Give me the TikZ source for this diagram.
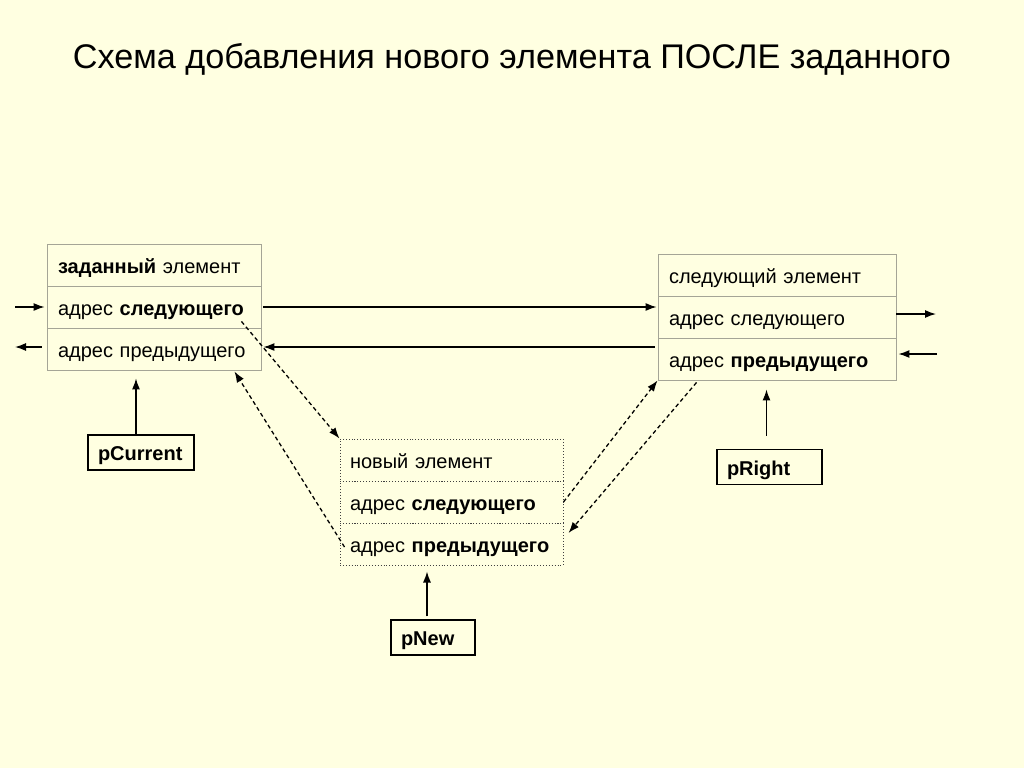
\documentclass[tikz,border=0pt]{standalone}
\usepackage{fontspec}
\setmainfont{Liberation Sans}
\usetikzlibrary{arrows.meta}
\definecolor{paper}{RGB}{255,255,225}
\definecolor{cellline}{RGB}{165,165,150}
\tikzset{
  cell/.style={draw=cellline, line width=0.9pt, align=left, inner xsep=11pt,
    minimum height=42pt, text height=20pt, text depth=4pt,
    font=\fontsize{20}{24}\selectfont},
  newcell/.style={cell, draw=black!75, dotted, line width=1pt, inner xsep=10pt},
  pointer/.style={draw=black, line width=1.2pt, align=left, inner xsep=10pt,
    minimum height=35pt, text height=19pt, text depth=3pt,
    font=\fontsize{20}{24}\selectfont\bfseries},
  link/.style={line width=1.3pt, -{Latex[length=11pt,width=8pt]}},
  dlink/.style={link, dash pattern=on 4pt off 3pt}
}
\begin{document}
\begin{tikzpicture}[x=1pt,y=-1pt]
        \useasboundingbox[fill=paper] (0,0) rectangle (1024,768);

        % Title
        \node[font=\fontsize{34.2}{40}\selectfont, anchor=base] (title) at (512,68)
          {Схема добавления нового элемента ПОСЛЕ заданного};

        % Define the elements
        \node[cell, text width=192pt] (cur1) at (154,265) {\textbf{заданный} элемент};
        \node[cell, text width=192pt] (cur2) at (154,307) {адрес \textbf{следующего}};
        \node[cell, text width=192pt] (cur3) at (154,349) {адрес предыдущего};

        \node[cell, text width=216pt] (nxt1) at (777,275) {следующий элемент};
        \node[cell, text width=216pt] (nxt2) at (777,317) {адрес следующего};
        \node[cell, text width=216pt] (nxt3) at (777,359) {адрес \textbf{предыдущего}};

        \node[newcell, text width=203pt] (new1) at (451.5,460) {новый элемент};
        \node[newcell, text width=203pt] (new2) at (451.5,502) {адрес \textbf{следующего}};
        \node[newcell, text width=203pt] (new3) at (451.5,544) {адрес \textbf{предыдущего}};

        % Define the pointers
        \node[pointer, text width=86pt] (pCur) at (141,452.5) {pCurrent};
        \node[pointer, text width=85pt] (pRgt) at (769.5,467) {pRight};
        \node[pointer, text width=64pt] (pNew) at (433,637.5) {pNew};

        % Free ends
        \coordinate (inL) at (15,307);
        \coordinate (outL) at (15,347);
        \coordinate (outR) at (936,314);
        \coordinate (inR) at (937,354);

        % Draw arrows
        \draw[link] (inL) -- ([xshift=-2pt]inL -| cur2.west);
        \draw[link] ([xshift=-5pt]outL -| cur3.west) -- (outL);
        \draw[link] (outR -| nxt2.east) -- (outR);
        \draw[link] (inR) -- ([xshift=2pt]inR -| nxt3.east);

        \draw[link] ([xshift=2pt]cur2.east) -- ([xshift=-1pt]cur2.east -| nxt2.west);
        \draw[link] ([shift={(-3,-2)}]nxt3.west |- cur3.east) -- ([shift={(2,-2)}]cur3.east);

        \draw[link] ([xshift=-5pt]pCur.north) -- ([shift={(-5,8)}]pCur.north |- cur3.south);
        \draw[link] ([shift={(-3,-13)}]pRgt.north) -- ([shift={(-3,9)}]pRgt.north |- nxt3.south);
        \draw[link] ([shift={(-6,-3)}]pNew.north) -- ([shift={(-6,6)}]pNew.north |- new3.south);

        % Draw the new links
        \draw[dlink] ([shift={(-20,-7)}]cur2.south east) -- (new1.north west);
        \draw[dlink] ([shift={(5,3)}]new3.west) -- ([shift={(-27,1)}]cur3.south east);
        \draw[dlink] (new2.east) -- (nxt3.south west);
        \draw[dlink] ([shift={(39,2)}]nxt3.south west) -- ([shift={(5,-11)}]new3.east);
    \end{tikzpicture}
\end{document}
